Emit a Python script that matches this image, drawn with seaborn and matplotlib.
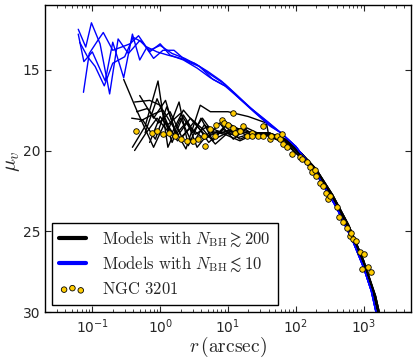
import pandas as pd
import matplotlib.pyplot as plt
import seaborn as sns
from matplotlib.lines import Line2D
from matplotlib.font_manager import FontProperties

# NGC 3201 surface brightness profile (observed)
obs_r = [0.44, 0.76, 0.9, 1.1, 1.36, 1.66, 2.0, 2.5, 3.1, 3.6, 4.4, 4.6, 5.4, 6.4, 6.6, 8.2,
         8.7, 10, 11.8, 11.8, 12.5, 15, 16.6, 19, 22.5, 23, 27.6, 32.6, 33, 41, 43, 52, 58,
         62, 64, 74, 87, 114, 122, 145, 160, 172, 190, 200, 226, 250, 280, 295, 315, 400,
         440, 490, 560, 620, 660, 690, 780, 870, 950, 1030, 1150, 1300]
obs_mu = [18.8, 18.9, 18.8, 19.0, 18.9, 19.1, 19.3, 19.4, 19.4, 19.3, 19.1, 19.7, 18.7, 19.1,
          18.4, 18.1, 18.3, 18.4, 18.6, 17.7, 18.9, 18.8, 18.5, 19.1, 18.9, 19.1, 19.1, 18.5,
          19.1, 19.3, 19.1, 19.1, 19.3, 19.0, 19.6, 19.8, 20.2, 20.4, 20.5, 20.7, 21.0, 21.3,
          21.2, 21.6, 22.0, 22.2, 22.6, 23.0, 22.8, 23.5, 24.1, 24.4, 24.8, 25.3, 25.1, 25.5,
          25.6, 26.3, 27.3, 26.4, 27.2, 27.5]

# outer parts of the models with many black holes
tail_r = [40, 70, 120, 200, 350, 600, 1000, 1500, 2000]
tail_mu_1 = [19.0, 19.4, 20.3, 21.3, 22.9, 24.8, 27.0, 29.2, 31.5]
tail_mu_2 = [19.1, 19.55, 20.45, 21.45, 23.05, 24.95, 27.15, 29.4, 31.7]
tail_mu_3 = [18.9, 19.3, 20.15, 21.15, 22.75, 24.6, 26.8, 29.0, 31.3]

# inner parts, models with N_BH >~ 200
bh_r = [
    [0.29, 0.45, 0.8, 1.2, 1.8, 2.8, 4.5, 7, 11, 18, 28],
    [0.39, 0.6, 0.93, 1.3, 2.0, 3.0, 4.5, 7, 12, 20, 30],
    [0.42, 0.7, 1.0, 1.5, 2.2, 3.3, 5, 8, 13, 22],
    [0.45, 0.65, 0.95, 1.4, 2.1, 3.2, 5.2, 8.5, 14, 25],
    [0.5, 0.75, 1.1, 1.6, 2.4, 3.9, 5.5, 10, 20, 37],
    [0.42, 0.6, 0.9, 1.3, 1.9, 2.6, 4, 6, 9, 15, 25],
    [0.5, 0.8, 1.2, 1.7, 2.5, 3.5, 5.5, 9, 15, 24],
    [0.6, 0.9, 1.3, 2.0, 3.0, 4.2, 6.5, 10, 16, 26],
    [0.7, 1.0, 1.5, 2.2, 3.5, 5, 7.5, 12, 19, 30],
    [0.38, 0.55, 0.85, 1.25, 1.8, 2.8, 4.3, 6.5, 10, 17, 27],
]
bh_mu = [
    [15.6, 17.5, 19.8, 18.2, 19.4, 18.6, 19.3, 18.8, 19.0, 18.9, 19.0],
    [19.8, 18.5, 15.7, 19.8, 18.0, 19.6, 18.4, 19.2, 18.7, 19.1, 18.9],
    [17.0, 16.9, 17.2, 19.5, 17.8, 19.0, 18.5, 18.9, 18.6, 18.9],
    [17.6, 17.4, 18.3, 17.6, 19.2, 18.2, 19.5, 18.7, 19.2, 18.9],
    [18.2, 17.8, 17.5, 18.6, 19.9, 17.2, 17.6, 17.6, 17.9, 18.3],
    [20.0, 19.0, 18.0, 18.8, 17.0, 19.7, 18.0, 19.4, 18.5, 19.3, 18.9],
    [16.6, 18.0, 16.9, 19.0, 18.2, 19.8, 18.8, 19.0, 19.4, 19.0],
    [18.9, 16.8, 18.4, 17.7, 18.9, 18.0, 19.1, 18.3, 18.8, 19.1],
    [19.5, 17.9, 18.9, 17.5, 18.5, 19.2, 18.3, 19.3, 18.6, 19.0],
    [18.0, 18.1, 19.3, 17.3, 19.1, 18.0, 18.7, 19.6, 18.9, 18.6, 19.2],
]
bh_tails = [tail_mu_1, tail_mu_2, tail_mu_3, tail_mu_1, tail_mu_2,
            tail_mu_3, tail_mu_1, tail_mu_2, tail_mu_3, tail_mu_1]

# models with N_BH <~ 10
few_tail_r = [60, 100, 200, 400, 700, 1000, 1300, 1700]
few_tail_mu = [18.9, 19.75, 21.4, 23.55, 25.65, 27.25, 28.7, 30.9]
few_r = [
    [0.062, 0.08, 0.097, 0.13, 0.18, 0.24, 0.34, 0.5, 0.7, 1.0, 1.5, 2.3, 3.5, 5.5, 9, 15, 25, 40],
    [0.062, 0.075, 0.1, 0.155, 0.2, 0.29, 0.39, 0.5, 0.64, 0.9, 1.3, 2.0, 3.2, 5, 8, 13, 22, 38],
    [0.074, 0.09, 0.12, 0.145, 0.2, 0.27, 0.36, 0.48, 0.7, 1.0, 1.4, 2.2, 3.5, 5.5, 9, 14, 24, 40],
    [0.065, 0.085, 0.11, 0.15, 0.2, 0.3, 0.4, 0.55, 0.8, 1.1, 1.6, 2.5, 3.8, 6, 10, 16, 26, 42],
]
few_mu = [
    [12.5, 13.6, 12.1, 13.4, 16.5, 13.1, 14.0, 13.2, 13.8, 13.5, 14.0, 14.3, 14.7, 15.3, 15.9, 16.8, 17.6, 18.3],
    [12.8, 14.5, 13.9, 15.7, 13.3, 15.5, 12.8, 14.4, 13.6, 13.9, 14.1, 14.3, 14.6, 15.1, 15.7, 16.5, 17.4, 18.2],
    [16.4, 14.0, 13.2, 12.7, 13.8, 13.6, 13.4, 12.9, 13.9, 13.4, 14.1, 14.4, 14.9, 15.5, 16.0, 16.7, 17.6, 18.4],
    [13.3, 14.2, 14.8, 16.0, 14.6, 14.2, 13.0, 13.3, 14.3, 13.8, 13.8, 14.5, 14.8, 15.6, 16.1, 16.9, 17.7, 18.5],
]

# build long tables
rows = []
for i in range(len(bh_r)):
    rows.append(pd.DataFrame({"r": bh_r[i] + tail_r, "mu": bh_mu[i] + bh_tails[i], "model": i}))
df_bh = pd.concat(rows, ignore_index=True)

rows = []
for i in range(len(few_r)):
    rows.append(pd.DataFrame({"r": few_r[i] + few_tail_r, "mu": few_mu[i] + few_tail_mu, "model": i}))
df_few = pd.concat(rows, ignore_index=True)

df_obs = pd.DataFrame({"r": obs_r, "mu": obs_mu})

sns.set_style("ticks")
plt.rcParams["font.family"] = ["DejaVu Sans"]

fig = plt.figure(figsize=(4.16, 3.58), dpi=100)
ax = fig.add_axes([0.108, 0.128, 0.88, 0.858])

sns.lineplot(data=df_bh, x="r", y="mu", units="model", estimator=None, sort=False,
             color="black", lw=1, ax=ax)
sns.lineplot(data=df_few, x="r", y="mu", units="model", estimator=None, sort=False,
             color="#0000ff", lw=1, ax=ax)
sns.scatterplot(data=df_obs, x="r", y="mu", color="#ffcc00", edgecolor="black",
                linewidth=0.6, s=16, zorder=5, ax=ax)
pts = ax.collections[-1]

ax.set_xscale("log")
ax.set_xlim(0.02, 5000)
ax.set_ylim(30, 11)
ax.set_yticks([15, 20, 25, 30])

ax.tick_params(which="both", direction="in", top=True, right=True, labelsize=10)
ax.tick_params(which="major", length=4, width=0.8)
ax.tick_params(which="minor", length=2, width=0.6)
for s in ax.spines.values():
    s.set_color("black")
    s.set_linewidth(1)

ax.set_xlabel(r"$r\,(\mathrm{arcsec})$", fontsize=14, math_fontfamily="cm")
ax.set_ylabel(r"$\mu_v$", fontsize=15, math_fontfamily="cm")
ax.xaxis.set_label_coords(0.5, -0.075)
ax.yaxis.set_label_coords(-0.062, 0.49)

handles = [Line2D([], [], color="black", lw=3),
           Line2D([], [], color="#0000ff", lw=3),
           pts]
labels = [r"$\mathrm{Models\ with}\ N_{\rm BH} \gtrsim 200$",
          r"$\mathrm{Models\ with}\ N_{\rm BH} \lesssim 10$",
          r"$\mathrm{NGC\ 3201}$"]
leg = ax.legend(handles, labels, loc="lower left", scatterpoints=3,
                scatteryoffsets=[0.375, 0.5, 0.3125],
                prop=FontProperties(size=12, math_fontfamily="cm"),
                handlelength=1.6, handletextpad=1.0, labelspacing=0.35,
                borderaxespad=0.45,
                fancybox=False, edgecolor="black", framealpha=1)
leg.get_frame().set_linewidth(1)

fig.savefig("out.png", dpi=100)
